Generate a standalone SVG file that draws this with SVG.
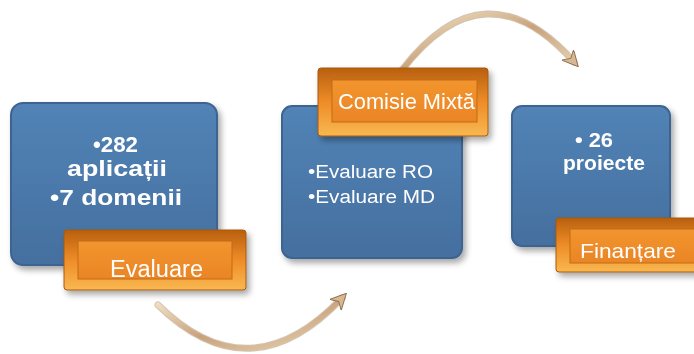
<svg xmlns="http://www.w3.org/2000/svg" width="694" height="354" viewBox="0 0 694 354">
<defs>
<linearGradient id="blueG" x1="0" y1="0" x2="0" y2="1">
<stop offset="0" stop-color="#5283b6"/><stop offset="1" stop-color="#446f9f"/>
</linearGradient>
<linearGradient id="orOut" x1="0" y1="0" x2="0" y2="1">
<stop offset="0" stop-color="#b8600e"/><stop offset="0.5" stop-color="#ee8c28"/><stop offset="1" stop-color="#f9b850"/>
</linearGradient>
<linearGradient id="orIn" x1="0" y1="0" x2="0" y2="1">
<stop offset="0" stop-color="#f2952e"/><stop offset="1" stop-color="#ea8526"/>
</linearGradient>
<linearGradient id="arrG" x1="0" y1="0" x2="1" y2="1">
<stop offset="0" stop-color="#f3e6c8"/><stop offset="0.5" stop-color="#c9a27a"/><stop offset="1" stop-color="#e9d6b4"/>
</linearGradient>
<filter id="sh" x="-10%" y="-10%" width="130%" height="130%">
<feGaussianBlur in="SourceAlpha" stdDeviation="3"/><feOffset dx="3" dy="4"/>
<feComponentTransfer><feFuncA type="linear" slope="0.35"/></feComponentTransfer>
<feMerge><feMergeNode/><feMergeNode in="SourceGraphic"/></feMerge>
</filter>
<marker id="ah" viewBox="0 0 10 10" refX="6" refY="5" markerWidth="3.2" markerHeight="3.2" orient="auto-start-reverse">
<path d="M0,0 L10,5 L0,10 L3,5 z" fill="#d8b892" stroke="#8f6f50" stroke-width="0.6"/>
</marker>
</defs>
<style>
.blue{fill:url(#blueG);stroke:#3d6390;stroke-width:2}
.oo{fill:url(#orOut);stroke:#a65a10;stroke-width:1}
.oi{fill:url(#orIn);stroke:#c46a14;stroke-width:1}
.bt{font-family:"Liberation Sans",Arial,sans-serif;fill:#ffffff}
.b{font-weight:bold}
.arr{fill:none;stroke:url(#arrG);stroke-width:5;stroke-linecap:round}
.arro{fill:none;stroke:#9c7a58;stroke-width:7;stroke-linecap:round;opacity:0.45}
</style>
<g id="connectors">
<path class="arro" d="M158,305 Q250,395 342,298"/>
<path class="arr" d="M158,305 Q250,395 342,298" marker-end="url(#ah)"/>
<path class="arro" d="M402,70 Q485,-38 574,62"/>
<path class="arr" d="M402,70 Q485,-38 574,62" marker-end="url(#ah)"/>
</g>
<g id="node1" filter="url(#sh)">
<rect class="blue" x="11" y="103" width="206" height="162" rx="12"/>
<text class="bt b" font-size="22">
<tspan x="93" y="152" textLength="45" lengthAdjust="spacingAndGlyphs">•282</tspan>
<tspan x="67" y="176" textLength="100" lengthAdjust="spacingAndGlyphs">aplicații</tspan>
<tspan x="50" y="205" textLength="132" lengthAdjust="spacingAndGlyphs">•7 domenii</tspan>
</text>
</g>
<g id="node2" filter="url(#sh)">
<rect class="blue" x="282" y="106" width="180" height="152" rx="10"/>
<text class="bt" font-size="18">
<tspan x="308" y="178" textLength="125" lengthAdjust="spacingAndGlyphs">•Evaluare RO</tspan>
<tspan x="308" y="203" textLength="127" lengthAdjust="spacingAndGlyphs">•Evaluare MD</tspan>
</text>
</g>
<g id="node3" filter="url(#sh)">
<rect class="blue" x="512" y="106" width="158" height="140" rx="10"/>
<text class="bt b" font-size="20">
<tspan x="575" y="147" textLength="38" lengthAdjust="spacingAndGlyphs">• 26</tspan>
<tspan x="563" y="170" textLength="82" lengthAdjust="spacingAndGlyphs">proiecte</tspan>
</text>
</g>
<g id="label1" filter="url(#sh)">
<rect class="oo" x="64" y="230" width="182" height="60" rx="3"/>
<rect class="oi" x="78" y="241" width="154" height="38"/>
<text class="bt" font-size="23" x="110" y="277" textLength="93" lengthAdjust="spacingAndGlyphs">Evaluare</text>
</g>
<g id="label2" filter="url(#sh)">
<rect class="oo" x="318" y="68" width="170" height="68" rx="3"/>
<rect class="oi" x="332" y="80" width="145" height="42"/>
<text class="bt" font-size="22" x="338" y="109" textLength="137" lengthAdjust="spacingAndGlyphs">Comisie Mixtă</text>
</g>
<g id="label3" filter="url(#sh)">
<rect class="oo" x="556" y="218" width="150" height="54" rx="3"/>
<rect class="oi" x="570" y="229" width="140" height="34"/>
<text class="bt" font-size="21" x="580" y="258" textLength="96" lengthAdjust="spacingAndGlyphs">Finanțare</text>
</g>
</svg>
